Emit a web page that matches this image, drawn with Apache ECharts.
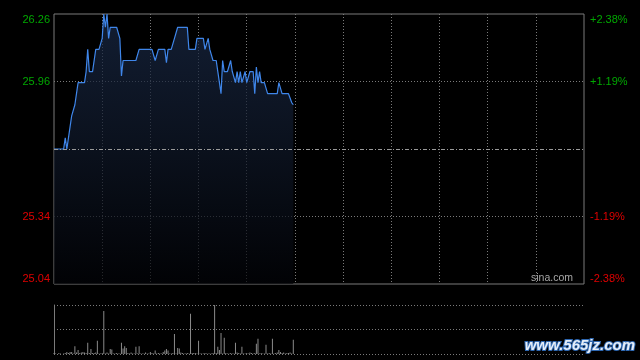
<!DOCTYPE html>
<html>
<head>
<meta charset="utf-8">
<script src="https://cdn.jsdelivr.net/npm/echarts@6/dist/echarts.min.js"></script>
<style>
html,body{margin:0;padding:0;background:#000;}
#chart{width:640px;height:360px;}
</style>
</head>
<body>
<div id="chart"></div>
<script>
// ---- data ----
var prevClose = 25.65;
var sessionMinutes = 330;
var prices = [
  25.65,25.65,25.65,25.65,25.65,25.65,25.65,25.70,25.65,25.70,
  25.75,25.80,25.80,25.85,25.90,25.95,25.95,25.95,25.95,25.95,
  26.00,26.10,26.00,26.00,26.00,26.00,26.10,26.10,26.10,26.10,
  26.15,26.26,26.20,26.26,26.15,26.20,26.20,26.20,26.20,26.20,
  26.20,26.15,25.98,26.05,26.05,26.05,26.05,26.05,26.05,26.05,
  26.05,26.05,26.05,26.10,26.10,26.10,26.10,26.10,26.10,26.10,
  26.10,26.10,26.10,26.05,26.05,26.10,26.10,26.10,26.10,26.10,
  26.04,26.10,26.10,26.10,26.10,26.15,26.15,26.20,26.20,26.20,
  26.20,26.20,26.20,26.20,26.10,26.10,26.10,26.10,26.10,26.15,
  26.15,26.15,26.15,26.15,26.10,26.10,26.15,26.10,26.10,26.05,
  26.05,26.05,26.00,25.95,25.90,26.05,26.00,26.00,26.00,26.00,
  26.05,26.00,26.00,25.95,26.00,25.95,26.00,25.95,25.95,26.00,
  25.95,25.95,26.00,26.00,26.00,25.90,26.02,25.95,26.00,25.95,
  25.95,25.95,25.95,25.90,25.90,25.90,25.90,25.90,25.90,25.90,
  25.95,25.95,25.90,25.90,25.90,25.90,25.90,25.90,25.86,25.85
];
var volumes = [
  2,1,0,2,1,0,1,2,4,2,
  4,4,1,16,3,8,2,3,4,3,
  2,23,2,10,2,2,3,27,1,1,
  2,88,1,3,1,10,9,1,1,2,
  1,1,23,11,16,12,2,1,3,1,
  1,15,1,16,1,1,1,3,1,1,
  4,2,1,7,1,2,1,1,4,7,
  10,7,1,1,2,41,1,12,11,3,
  2,1,1,2,1,82,2,2,2,1,
  27,1,1,1,2,1,1,1,1,2,
  100,2,15,8,43,1,33,2,1,1,
  2,1,1,23,3,2,1,15,1,1,
  2,1,3,2,1,2,21,31,1,2,
  1,1,19,1,2,1,31,1,2,3,
  8,4,2,3,1,2,2,3,1,29
];
var priceTicks = [25.04, 25.34, 25.65, 25.96, 26.26];
var priceTickLabels = ['25.04', '25.34', '', '25.96', '26.26'];
var pctTicks = [-2.38, -1.19, 0, 1.19, 2.38];
var pctTickLabels = ['-2.38%', '-1.19%', '', '+1.19%', '+2.38%'];

// ---- chart ----
var GREEN = '#00a800', RED = '#e00000';
var FONT = '"Liberation Sans", Arial, sans-serif';
function nearestLabel(ticks, labels, v) {
  var best = 0, d = Infinity;
  for (var k = 0; k < ticks.length; k++) {
    var dd = Math.abs(ticks[k] - v);
    if (dd < d) { d = dd; best = k; }
  }
  return labels[best];
}
var priceData = prices.map(function (p, i) { return [i, p]; });
var volData = volumes.map(function (v, i) { return [i, v]; });

var chart = echarts.init(document.getElementById('chart'), null, {renderer: 'canvas'});
var dotted = {color: '#7a7a7a', width: 1, type: [1, 2]};
chart.setOption({
  backgroundColor: '#000',
  animation: false,
  grid: [
    {left: 54, right: 56, top: 14, height: 270, show: true, borderColor: '#7a7a7a', borderWidth: 1, backgroundColor: 'transparent'},
    {left: 54, right: 56, top: 305, height: 49}
  ],
  xAxis: [
    {type: 'value', gridIndex: 0, min: 0, max: sessionMinutes, interval: 30,
     axisLine: {show: false}, axisTick: {show: false}, axisLabel: {show: false},
     splitLine: {show: true, showMinLine: false, showMaxLine: false, lineStyle: dotted}},
    {type: 'value', gridIndex: 1, min: 0, max: sessionMinutes, interval: 30,
     axisLine: {show: false}, axisTick: {show: false}, axisLabel: {show: false},
     splitLine: {show: false}}
  ],
  yAxis: [
    {type: 'value', gridIndex: 0, min: priceTicks[0], max: priceTicks[4], interval: 0.305,
     axisLine: {show: false}, axisTick: {show: false},
     splitLine: {show: true, showMinLine: false, showMaxLine: false, lineStyle: dotted},
     axisLabel: {
       fontFamily: FONT, fontSize: 11, margin: 4,
       verticalAlignMinLabel: 'bottom', verticalAlignMaxLabel: 'top',
       formatter: function (v) { return nearestLabel(priceTicks, priceTickLabels, v); },
       color: function (v) { return v > prevClose ? GREEN : RED; }
     }},
    {type: 'value', gridIndex: 0, position: 'right', min: pctTicks[0], max: pctTicks[4], interval: 1.19,
     axisLine: {show: false}, axisTick: {show: false}, splitLine: {show: false},
     axisLabel: {
       fontFamily: FONT, fontSize: 11, margin: 6,
       verticalAlignMinLabel: 'bottom', verticalAlignMaxLabel: 'top',
       formatter: function (v) { return nearestLabel(pctTicks, pctTickLabels, v); },
       color: function (v) { return v > 0 ? GREEN : RED; }
     }},
    {type: 'value', gridIndex: 1, min: 0, max: 100, interval: 50,
     axisLine: {show: true, lineStyle: {color: '#7a7a7a', width: 1}},
     axisTick: {show: false}, axisLabel: {show: false},
     splitLine: {show: true, lineStyle: dotted}}
  ],
  series: [
    {type: 'line', xAxisIndex: 0, yAxisIndex: 0, data: priceData,
     showSymbol: false, symbol: 'none', silent: true,
     lineStyle: {color: '#3f86ea', width: 1.2},
     areaStyle: {color: new echarts.graphic.LinearGradient(0, 0, 0, 1, [
       {offset: 0, color: '#1a2a48'},
       {offset: 0.5, color: '#0f1829'},
       {offset: 1, color: '#020307'}
     ])},
     markLine: {silent: true, symbol: 'none', label: {show: false},
       lineStyle: {color: '#9a9a9a', width: 1, type: [4, 2, 1, 2]},
       data: [{yAxis: prevClose}]}
    },
    {type: 'bar', xAxisIndex: 1, yAxisIndex: 2, data: volData,
     barWidth: 1, silent: true, itemStyle: {color: '#8a8a8a'}}
  ],
  graphic: [
    {type: 'text', left: 531, top: 273, silent: true,
     style: {text: 'sina.com', fill: '#a8a8a8', font: '10.5px ' + FONT}},
    {type: 'text', right: 4, top: 337, silent: true,
     style: {text: 'www.565jz.com', fill: '#e6eef8', stroke: '#2e67b0', lineWidth: 2,
       font: 'bold italic 15px "Liberation Sans", Arial, sans-serif'}}
  ]
});
</script>
</body>
</html>
